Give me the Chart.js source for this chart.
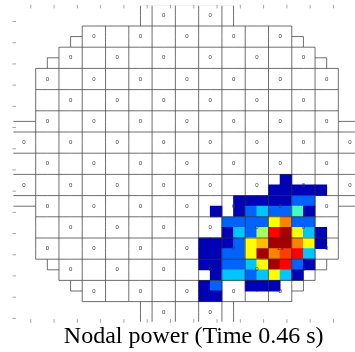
<!DOCTYPE html>
<html>
<head>
<meta charset="utf-8">
<script src="https://cdn.jsdelivr.net/npm/chart.js@4/dist/chart.umd.min.js"></script>
<style>
  html, body { margin: 0; padding: 0; background: #fff; overflow: hidden; }
  canvas { display: block; }
</style>
</head>
<body>
<canvas id="coreMap" width="375" height="352"></canvas>
<script>
// ---- Core geometry (node grid: 2x2 nodes per assembly, 15x15 assemblies) ----
// First node column inside the core for each node row (the core is mirror-symmetric).
const coreStart = [11, 11, 6, 5, 4, 3, 2, 2, 2, 2, 2, 0, 0, 0, 0, 0, 0, 0, 0, 2, 2, 2, 2, 2, 3, 4, 5, 6, 11, 11];

// ---- Nodal power: block of node rows 16..27, node columns 16..26 (all other nodes are 0) ----
const powerFirstRow = 16;
const powerFirstCol = 16;
const nodePower = [
  [0,   0,   0,   0,   0,   0,   0,    0.7,  0,    0,   0  ],
  [0,   0,   0,   0,   0,   0,   0.7,  0.7,  0.7,  0.7, 0.7],
  [0,   0,   0,   0.7, 0.7, 0.7, 0.7,  0.7,  3.0,  3.0, 0  ],
  [0,   0.7, 0,   0.7, 3.0, 4.3, 3.0,  3.0,  5.9,  0.7, 0  ],
  [0,   0,   3.0, 3.0, 3.0, 3.0, 8.4,  10.1, 3.0,  3.0, 0  ],
  [0,   0,   0.7, 4.3, 3.0, 7.2, 11.8, 13.0, 8.4,  4.3, 0.7],
  [0.7, 0.7, 0.7, 3.0, 8.4, 9.3, 13.0, 13.0, 10.1, 8.4, 0.7],
  [0.7, 0.7, 3.0, 3.0, 8.4, 13.0, 10.1, 11.0, 11.8, 4.3, 0 ],
  [0.7, 0.7, 3.0, 3.0, 4.3, 8.4, 13.0, 11.8, 3.0,  0.7, 0  ],
  [0,   0.7, 4.3, 4.3, 3.0, 4.3, 8.4,  4.3,  0.7,  0,   0  ],
  [0.7, 3.0, 0,   0,   0.7, 0.7, 0.7,  0,    0,    0,   0  ],
  [0.7, 0.7, 0,   0,   0,   0,   0,    0,    0,    0,   0  ]
];
const powerScaleMax = 13.5;

// ---- Assembly readings printed on the map (null = nothing printed) ----
const _ = null;
const assemblyReadings = [
  [_, _, _, _, _, _, 0, _, 0, _, _, _, _, _, _],
  [_, _, _, 0, _, 0, _, 0, _, 0, _, 0, _, _, _],
  [_, _, 0, _, 0, _, 0, _, 0, _, 0, _, 0, _, _],
  [_, 0, _, 0, _, 0, _, 0, _, 0, _, 0, _, 0, _],
  [_, _, 0, _, 0, _, 0, _, 0, _, 0, _, 0, _, _],
  [_, 0, _, 0, _, 0, _, 0, _, 0, _, 0, _, 0, _],
  [0, _, 0, _, 0, _, 0, _, 0, _, 0, _, 0, _, 0],
  [_, 0, _, 0, _, 0, _, 0, _, 0, _, 0, _, 0, _],
  [0, _, 0, _, 0, _, 0, _, 0, _, 0, _, 0, _, 0],
  [_, 0, _, 0, _, 0, _, 0, _, 0, _, 0, _, 0, _],
  [_, _, 0, _, 0, _, 0, _, 0, _, 0, _, 0, _, _],
  [_, 0, _, 0, _, 0, _, 0, _, 0, _, 13, _, 0, _],
  [_, _, 0, _, 0, _, 0, _, 0, _, 0, _, 0, _, _],
  [_, _, _, 0, _, 0, _, 0, _, 0, _, 0, _, _, _],
  [_, _, _, _, _, _, 0, _, 0, _, _, _, _, _, _]
];

const titleText = 'Nodal power (Time 0.46 s)';

// Axis frame tick positions (assembly units)
const frameTicks = Array.from({ length: 16 }, (v, k) => k + 0.79);

// ---- Jet colour map ----
function jetColor(t) {
  const c = v => Math.round(255 * Math.min(1, Math.max(0, v)));
  const r = c(1.5 - Math.abs(4 * t - 3));
  const g = c(1.5 - Math.abs(4 * t - 2));
  const b = c(1.5 - Math.abs(4 * t - 1));
  return `rgb(${r},${g},${b})`;
}

// Each powered node becomes a floating bar: x = node centre, y = [top, bottom] in assembly units.
const cells = [];
nodePower.forEach((row, r) => row.forEach((v, c) => {
  if (v > 0) {
    const i = powerFirstCol + c;
    const j = powerFirstRow + r;
    cells.push({ x: (i + 0.5) / 2, y: [j / 2, (j + 1) / 2], v });
  }
}));

// Assembly grid, core outline, readings and frame ticks drawn on top of the nodes.
const coreMapPlugin = {
  id: 'coreMap',
  afterDatasetsDraw(chart) {
    const { ctx, chartArea: a, scales: { x, y } } = chart;
    const px = v => x.getPixelForValue(v);
    const py = v => y.getPixelForValue(v);
    const n = coreStart.length;
    const inside = (i, j) => j >= 0 && j < n && i >= coreStart[j] && i < n - coreStart[j];

    ctx.save();
    // edges lying on the plot frame are left to the (undrawn) frame
    ctx.beginPath();
    ctx.rect(a.left + 1, a.top + 1, a.right - a.left - 2, a.bottom - a.top - 2);
    ctx.clip();

    ctx.beginPath();
    for (let j = 0; j < n; j++) {
      for (let i = 0; i <= n; i++) {
        const l = inside(i - 1, j), r = inside(i, j);
        if (l !== r || (l && r && i % 2 === 0)) {
          ctx.moveTo(px(i / 2), py(j / 2));
          ctx.lineTo(px(i / 2), py((j + 1) / 2));
        }
      }
    }
    for (let i = 0; i < n; i++) {
      for (let j = 0; j <= n; j++) {
        const t = inside(i, j - 1), b = inside(i, j);
        if (t !== b || (t && b && j % 2 === 0)) {
          ctx.moveTo(px(i / 2), py(j / 2));
          ctx.lineTo(px((i + 1) / 2), py(j / 2));
        }
      }
    }
    ctx.strokeStyle = 'rgba(50,50,50,0.7)';
    ctx.lineWidth = 1;
    ctx.stroke();
    ctx.restore();

    // readings at assembly centres
    ctx.save();
    ctx.font = '6px "Liberation Sans", Arial, sans-serif';
    ctx.fillStyle = '#3a3a3a';
    ctx.textAlign = 'center';
    ctx.textBaseline = 'middle';
    assemblyReadings.forEach((row, r) => row.forEach((v, c) => {
      if (v !== null) ctx.fillText(String(v), px(c + 0.5), py(r + 0.5));
    }));
    ctx.restore();

    // inward tick marks on the frame
    ctx.save();
    ctx.beginPath();
    const tl = 3.6;
    frameTicks.forEach(t => {
      if (t < x.max) {
        ctx.moveTo(px(t), a.top); ctx.lineTo(px(t), a.top + tl);
        ctx.moveTo(px(t), a.bottom); ctx.lineTo(px(t), a.bottom - tl);
      }
      if (t < y.max) {
        ctx.moveTo(a.left, py(t)); ctx.lineTo(a.left + tl, py(t));
      }
    });
    ctx.strokeStyle = 'rgba(0,0,0,0.35)';
    ctx.lineWidth = 1;
    ctx.stroke();
    ctx.restore();
  }
};

new Chart(document.getElementById('coreMap'), {
  type: 'bar',
  data: {
    datasets: [{
      data: cells,
      backgroundColor: c => (c.raw ? jetColor(c.raw.v / powerScaleMax) : '#000'),
      borderWidth: 0,
      inflateAmount: 0.4,
      barPercentage: 1,
      categoryPercentage: 1
    }]
  },
  options: {
    responsive: false,
    animation: false,
    events: [],
    layout: { padding: { left: 12.4, top: 4.8, right: 0, bottom: 0 } },
    scales: {
      x: { type: 'linear', min: 0, max: 15.575, offset: false, display: false },
      y: { type: 'linear', min: 0, max: 15, reverse: true, display: false }
    },
    plugins: {
      legend: { display: false },
      tooltip: { enabled: false },
      title: {
        display: true,
        text: titleText,
        position: 'bottom',
        color: '#000',
        font: { family: '"Liberation Serif", "Times New Roman", serif', size: 24, weight: 'normal', lineHeight: 1 },
        padding: { top: 1.5, bottom: 3.7 }
      }
    }
  },
  plugins: [coreMapPlugin]
});
</script>
</body>
</html>
